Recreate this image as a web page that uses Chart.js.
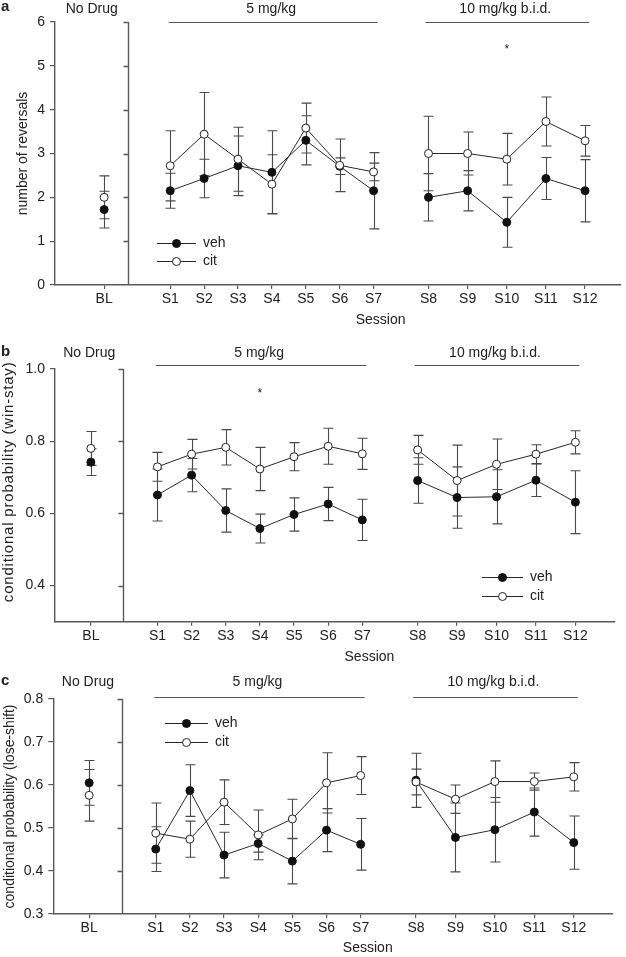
<!DOCTYPE html>
<html><head><meta charset="utf-8">
<script src="https://cdn.jsdelivr.net/npm/chart.js@4.4.1/dist/chart.umd.min.js"></script>
<style>
html,body{margin:0;padding:0;background:#fff;}
#wrap{position:relative;width:626px;height:957px;overflow:hidden;background:#fff;}
canvas{position:absolute;left:0;}
</style></head><body>
<div id="wrap">
<canvas id="cA" width="626" height="330" style="top:0px"></canvas>
<canvas id="cB" width="626" height="334" style="top:330px"></canvas>
<canvas id="cC" width="626" height="293" style="top:664px"></canvas>
</div>
<script>
// ---------- data ----------
const sessions = ['BL','S1','S2','S3','S4','S5','S6','S7','S8','S9','S10','S11','S12'];
const groupLabels = ['No Drug','5 mg/kg','10 mg/kg b.i.d.'];
const seriesNames = ['veh','cit'];

// panel a: number of reversals
const reversalsVeh    = [1.72, 2.15, 2.43, 2.72, 2.57, 3.30, 2.71, 2.15, 2.00, 2.15, 1.43, 2.43, 2.15];
const reversalsVehErr = [0.42, 0.40, 0.44, 0.68, 0.95, 0.56, 0.19, 0.87, 0.54, 0.46, 0.57, 0.48, 0.71];
const reversalsCit    = [2.00, 2.72, 3.44, 2.87, 2.30, 3.58, 2.73, 2.58, 3.00, 3.00, 2.87, 3.73, 3.29];
const reversalsCitErr = [0.49, 0.80, 0.95, 0.73, 0.67, 0.57, 0.60, 0.20, 0.85, 0.49, 0.59, 0.56, 0.35];

// panel b: conditional probability (win-stay)
const winStayVeh    = [0.742, 0.651, 0.706, 0.608, 0.558, 0.597, 0.626, 0.582, 0.691, 0.644, 0.646, 0.692, 0.631];
const winStayVehErr = [0.037, 0.072, 0.046, 0.060, 0.040, 0.046, 0.046, 0.057, 0.063, 0.085, 0.075, 0.045, 0.087];
const winStayCit    = [0.780, 0.729, 0.764, 0.783, 0.723, 0.757, 0.786, 0.765, 0.776, 0.691, 0.736, 0.764, 0.797];
const winStayCitErr = [0.047, 0.040, 0.041, 0.049, 0.060, 0.039, 0.050, 0.043, 0.040, 0.098, 0.070, 0.026, 0.032];

// panel c: conditional probability (lose-shift)
const loseShiftVeh    = [0.605, 0.451, 0.587, 0.437, 0.464, 0.423, 0.495, 0.462, 0.611, 0.478, 0.496, 0.537, 0.466];
const loseShiftVehErr = [0.052, 0.052, 0.060, 0.053, 0.020, 0.053, 0.050, 0.060, 0.063, 0.080, 0.075, 0.056, 0.062];
const loseShiftCit    = [0.576, 0.488, 0.474, 0.560, 0.484, 0.521, 0.605, 0.622, 0.607, 0.567, 0.608, 0.608, 0.619];
const loseShiftCitErr = [0.060, 0.070, 0.042, 0.052, 0.058, 0.046, 0.070, 0.044, 0.030, 0.033, 0.048, 0.020, 0.033];

const ticksA = [0, 1, 2, 3, 4, 5, 6];
const ticksB = [0.4, 0.6, 0.8, 1.0];
const ticksC = [0.3, 0.4, 0.5, 0.6, 0.7, 0.8];

const starA = {session: 'S10', value: 5.45};
const starB = {session: 'S4', value: 0.942};

// ---------- layout helpers ----------
const FONT = "'Liberation Sans', Arial, Helvetica, sans-serif";
const W = 626;
function xPos(i) {            // position of session i on the linear x axis
  if (i === 0) return -1.95;
  if (i <= 7) return i - 1;
  return 7.62 + (i - 8) * 1.155;
}
function points(vals) {
  const pts = [];
  vals.forEach((v, i) => {
    if (i === 1 || i === 8) pts.push({x: (xPos(i - 1) + xPos(i)) / 2, y: null});
    pts.push({x: xPos(i), y: v});
  });
  return pts;
}

const decor = {
  id: 'decor',
  beforeDatasetsDraw(chart, args, o) {
    const xs = chart.scales.x, ys = chart.scales.y, c = chart.ctx;
    c.save();
    c.strokeStyle = '#4a4a4a';
    c.lineWidth = 1.1;
    o.errors.forEach(er => {
      er.vals.forEach((v, i) => {
        const px = Math.round(xs.getPixelForValue(xPos(i))) + 0.5;
        const t = ys.getPixelForValue(v + er.err[i]);
        const b = ys.getPixelForValue(v - er.err[i]);
        c.beginPath();
        c.moveTo(px, t); c.lineTo(px, b);
        c.moveTo(px - 5, t); c.lineTo(px + 5, t);
        c.moveTo(px - 5, b); c.lineTo(px + 5, b);
        c.stroke();
      });
    });
    c.restore();
  },
  afterDraw(chart, args, o) {
    const xs = chart.scales.x, ys = chart.scales.y, c = chart.ctx, A = chart.chartArea;
    c.save();
    // axis break line with its own ticks
    const bx = Math.round(xs.getPixelForValue(o.brk)) + 0.5;
    c.strokeStyle = '#5a5a5a';
    c.lineWidth = 1.4;
    c.beginPath();
    c.moveTo(bx, A.top); c.lineTo(bx, A.bottom);
    o.yTicks.forEach(v => {
      if (v === ys.min) return;
      const py = Math.round(ys.getPixelForValue(v)) + 0.5;
      c.moveTo(bx - 5, py); c.lineTo(bx, py);
    });
    c.stroke();

    c.fillStyle = '#222';
    // panel letter
    c.font = 'bold 15px ' + FONT;
    c.textAlign = 'left'; c.textBaseline = 'middle';
    c.fillText(o.letter, 1, A.top + o.letterDy);

    // group labels and bars
    c.font = '14px ' + FONT;
    c.textAlign = 'center';
    const left = A.left, blMid = (left + bx) / 2;
    c.fillText(groupLabels[0], blMid, A.top + o.textDy);
    const p = i => xs.getPixelForValue(xPos(i));
    const g1a = p(1) - 1.5, g1b = p(7) + 4, g2a = p(8) - 3, g2b = p(12) + 4;
    c.fillText(groupLabels[1], (g1a + g1b) / 2 - 2, A.top + o.textDy);
    c.fillText(groupLabels[2], (g2a + g2b) / 2 - 2, A.top + o.textDy);
    c.strokeStyle = '#555'; c.lineWidth = 1.2;
    c.beginPath();
    const ly = Math.round(A.top + o.lineDy) + 0.5;
    c.moveTo(g1a, ly); c.lineTo(g1b, ly);
    c.moveTo(g2a, ly); c.lineTo(g2b, ly);
    c.stroke();

    // axis titles
    c.font = '14px ' + FONT;
    c.textAlign = 'center'; c.textBaseline = 'middle';
    c.fillText('Session', (p(1) + p(12)) / 2 + 3, A.bottom + o.sessionDy);
    c.save();
    c.translate(o.titleX, (A.top + A.bottom) / 2 + o.titleDy);
    c.rotate(-Math.PI / 2);
    c.font = o.titleFont + 'px ' + FONT;
    if (o.titleSpacing) c.letterSpacing = o.titleSpacing + 'px';
    c.fillText(o.title, 0, 0);
    c.restore();

    // significance star
    if (o.star) {
      const si = sessions.indexOf(o.star.session);
      c.font = '12px ' + FONT;
      c.textBaseline = 'alphabetic';
      c.fillText('*', p(si), ys.getPixelForValue(o.star.value) + 7);
    }

    // legend
    const L = o.legend;
    const ds = chart.data.datasets;
    [L.y0, L.y1].forEach((yy, k) => {
      const d = ds[k];
      const y = Math.round(yy) + 0.5;
      c.strokeStyle = '#2a2a2a'; c.lineWidth = 1;
      c.beginPath(); c.moveTo(L.x0, y); c.lineTo(L.x1, y); c.stroke();
      c.beginPath(); c.arc((L.x0 + L.x1) / 2, y, 4, 0, Math.PI * 2);
      c.fillStyle = d.pointBackgroundColor; c.fill();
      c.strokeStyle = d.pointBorderColor; c.stroke();
      c.fillStyle = '#222';
      c.font = '14px ' + FONT;
      c.textAlign = 'left'; c.textBaseline = 'middle';
      c.fillText(d.label, L.x1 + 7, y);
    });
    c.restore();
  }
};

function makePanel(cfg) {
  const canvas = document.getElementById(cfg.id);
  const H = canvas.height, A = cfg.area;
  const axisCol = '#5a5a5a';
  new Chart(canvas.getContext('2d'), {
    type: 'line',
    data: {
      datasets: [
        {label: seriesNames[0], data: points(cfg.veh), borderColor: '#2a2a2a', borderWidth: 1,
         pointRadius: 4, pointBackgroundColor: '#111', pointBorderColor: '#111', pointBorderWidth: 1,
         spanGaps: false, order: 1, tension: 0},
        {label: seriesNames[1], data: points(cfg.cit), borderColor: '#2a2a2a', borderWidth: 1,
         pointRadius: 4, pointBackgroundColor: '#ffffff', pointBorderColor: '#222', pointBorderWidth: 1,
         spanGaps: false, order: 0, tension: 0}
      ]
    },
    options: {
      responsive: false, animation: false, devicePixelRatio: 1,
      layout: {padding: {left: 0, top: A.top, right: W - A.right, bottom: 0}},
      plugins: {
        legend: {display: false}, tooltip: {enabled: false},
        decor: {
          errors: [{vals: cfg.veh, err: cfg.vehErr}, {vals: cfg.cit, err: cfg.citErr}],
          brk: cfg.brk, yTicks: cfg.yTicks, letter: cfg.letter, letterDy: cfg.letterDy,
          textDy: cfg.textDy, lineDy: cfg.lineDy, sessionDy: cfg.sessionDy,
          title: cfg.title, titleX: cfg.titleX, titleDy: cfg.titleDy, titleFont: cfg.titleFont,
          titleSpacing: cfg.titleSpacing, star: cfg.star, legend: cfg.legend
        }
      },
      scales: {
        x: {
          type: 'linear', min: cfg.xMin, max: cfg.xMax,
          afterFit(s) { s.height = H - A.bottom; },
          afterBuildTicks(s) { s.ticks = sessions.map((_, i) => ({value: xPos(i)})); },
          ticks: {callback: (v, i) => sessions[i], autoSkip: false, maxRotation: 0, minRotation: 0,
                  padding: 2, font: {family: FONT, size: 14}, color: '#222'},
          grid: {display: true, drawOnChartArea: false, drawTicks: true, tickLength: 4, color: axisCol, lineWidth: 1.2},
          border: {display: true, color: axisCol, width: 1.4}
        },
        y: {
          type: 'linear', min: cfg.yMin, max: cfg.yMax,
          afterFit(s) { s.width = A.left; },
          afterBuildTicks(s) { s.ticks = cfg.yTicks.map(v => ({value: v})); },
          ticks: {callback: v => cfg.dec ? v.toFixed(cfg.dec) : String(v), autoSkip: false,
                  padding: 5, font: {family: FONT, size: 14}, color: '#222'},
          grid: {display: true, drawOnChartArea: false, drawTicks: true, tickLength: 5, color: axisCol, lineWidth: 1.2},
          border: {display: true, color: axisCol, width: 1.4}
        }
      }
    },
    plugins: [decor]
  });
}

makePanel({id: 'cA', area: {left: 55, right: 623, top: 22, bottom: 285},
  xMin: -3.40, xMax: 13.30, brk: -1.255, yMin: 0, yMax: 6, yTicks: ticksA, dec: 0,
  veh: reversalsVeh, vehErr: reversalsVehErr, cit: reversalsCit, citErr: reversalsCitErr,
  letter: 'a', letterDy: -15, textDy: -13, lineDy: -0.5, sessionDy: 35,
  title: 'number of reversals', titleX: 23, titleDy: 0, titleFont: 14, titleSpacing: 0,
  star: starA, legend: {x0: 157, x1: 196, y0: 243, y1: 261}});

makePanel({id: 'cB', area: {left: 55, right: 615, top: 39, bottom: 291.7},
  xMin: -3.0, xMax: 13.40, brk: -1.013, yMin: 0.3, yMax: 1.0, yTicks: ticksB, dec: 1,
  veh: winStayVeh, vehErr: winStayVehErr, cit: winStayCit, citErr: winStayCitErr,
  letter: 'b', letterDy: -17, textDy: -16, lineDy: -4.5, sessionDy: 35,
  title: 'conditional probability (win-stay)', titleX: 9, titleDy: -13.5, titleFont: 15, titleSpacing: 0.8,
  star: starB, legend: {x0: 482, x1: 523, y0: 246.7, y1: 265.7}});

makePanel({id: 'cC', area: {left: 53.3, right: 612.7, top: 35, bottom: 250},
  xMin: -3.0, xMax: 13.38, brk: -0.996, yMin: 0.3, yMax: 0.8, yTicks: ticksC, dec: 1,
  veh: loseShiftVeh, vehErr: loseShiftVehErr, cit: loseShiftCit, citErr: loseShiftCitErr,
  letter: 'c', letterDy: -18, textDy: -17, lineDy: -2.3, sessionDy: 34,
  title: 'conditional probability (lose-shift)', titleX: 10, titleDy: 0, titleFont: 14, titleSpacing: 0,
  star: null, legend: {x0: 165, x1: 208, y0: 59.3, y1: 78.3}});
</script>
</body></html>
